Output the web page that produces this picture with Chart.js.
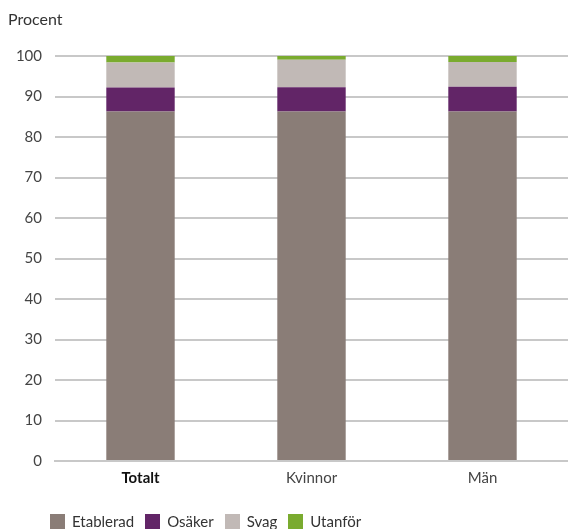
<!DOCTYPE html>
<html>
<head>
<meta charset="utf-8">
<script src="https://cdn.jsdelivr.net/npm/chart.js@4"></script>
<style>
  html, body { margin: 0; padding: 0; background: #fff; }
  #wrap { position: relative; width: 568px; height: 529px; font-family: Lato, "Open Sans", sans-serif; color: #333; }
  #titel { position: absolute; left: 8px; top: 9px; font-size: 16px; }
  #legend { position: absolute; left: 50px; top: 512px; display: flex; font-size: 15px; line-height: 18px; }
  #legend span.item { display: flex; align-items: center; margin-right: 11px; }
  #legend span.box { display: inline-block; width: 15px; height: 15px; margin-right: 7px; }
</style>
</head>
<body>
<div id="wrap">
  <div id="titel">Procent</div>
  <canvas id="graf" width="568" height="529"></canvas>
  <div id="legend"></div>
</div>
<script>
// ================= DATA =================
const kategorier = ["Totalt", "Kvinnor", "Män"];
const serieNamn = ["Etablerad", "Osäker", "Svag", "Utanför"];
const etablerad = [86.3, 86.3, 86.3];
const osaker = [5.9, 6.0, 6.1];
const svag = [6.2, 6.8, 6.1];
const utanfor = [1.6, 0.9, 1.5];
const yTicks = [0, 10, 20, 30, 40, 50, 60, 70, 80, 90, 100];
const farger = ["#8a7d77", "#622567", "#c1b9b6", "#7aab2f"];

const serier = [etablerad, osaker, svag, utanfor];

// ================= CHART =================
const datasets = serier.map((data, i) => ({
  label: serieNamn[i],
  data: data,
  backgroundColor: farger[i],
  barPercentage: 0.4,
  categoryPercentage: 1.0
}));

new Chart(document.getElementById("graf"), {
  type: "bar",
  data: { labels: kategorier, datasets },
  options: {
    responsive: false,
    animation: false,
    layout: { padding: { top: 56, bottom: 42, right: 0, left: 0 } },
    plugins: {
      legend: { display: false },
      tooltip: { enabled: false }
    },
    scales: {
      x: {
        stacked: true,
        grid: { display: false },
        border: { color: "#c8c8c8", width: 2 },
        ticks: {
          padding: 0,
          color: ctx => ctx.index === 0 ? "#111" : "#444",
          font: ctx => ({ family: "Lato, 'Open Sans', sans-serif", size: 15, weight: ctx.index === 0 ? "bold" : "normal" })
        }
      },
      y: {
        stacked: true,
        min: 0,
        max: 100,
        afterFit: s => { s.width = 55; },
        afterBuildTicks: s => { s.ticks = yTicks.map(v => ({ value: v })); },
        grid: { color: "#c8c8c8", lineWidth: 2, drawTicks: false },
        border: { display: false },
        ticks: {
          padding: 13,
          color: "#444",
          font: { family: "Lato, 'Open Sans', sans-serif", size: 15 }
        }
      }
    }
  }
});

// legend som HTML
document.getElementById("legend").innerHTML = serieNamn.map((n, i) =>
  `<span class="item"><span class="box" style="background:${farger[i]}"></span>${n}</span>`
).join("");
</script>
</body>
</html>
